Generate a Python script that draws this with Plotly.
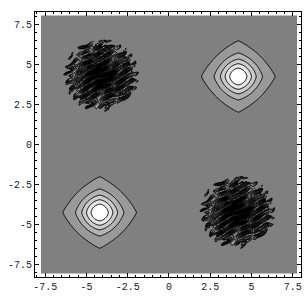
import numpy as np
import plotly.graph_objects as go

# ---- data ----
x_extent = [-7.76, 7.76]
y_extent = [-8.05, 8.05]
light_cx = [4.2, -4.2]          # maxima (light, diamond-shaped)
light_cy = [4.25, -4.25]
dark_cx = [-4.1, 4.15]          # minima (dark, noisy)
dark_cy = [4.3, -4.25]
core_amp, core_w = 0.55, 0.95
shoulder_amp, shoulder_w, shoulder_p = 0.45, 1.75, 1.2
dark_amp, dark_w2, dark_radius = 1.0, 1.4, 2.05
streak_amp, streak_angle_deg = 0.6, 33
n_levels = 10
z_lo, z_hi = -1.0, 1.0
tick_vals = [-7.5, -5, -2.5, 0, 2.5, 5, 7.5]
tick_text = ["-7.5", "-5", "-2.5", "0", "2.5", "5", "7.5"]

# ---- field ----
xs = np.linspace(x_extent[0], x_extent[1], 389)
ys = np.linspace(y_extent[0], y_extent[1], 403)
X, Y = np.meshgrid(xs, ys)
Z = np.zeros_like(X)

for cx, cy in zip(light_cx, light_cy):
    dx, dy = X - cx, Y - cy
    r2 = dx**2 + dy**2
    rho = (np.abs(dx)**shoulder_p + np.abs(dy)**shoulder_p) ** (1 / shoulder_p)
    Z += core_amp * np.exp(-r2 / core_w**2) + shoulder_amp * np.exp(-(rho / shoulder_w) ** 2)

th = np.radians(streak_angle_deg)
for cx, cy in zip(dark_cx, dark_cy):
    dx, dy = X - cx, Y - cy
    r2 = dx**2 + dy**2
    u = -np.sin(th) * dx + np.cos(th) * dy
    v = np.cos(th) * dx + np.sin(th) * dy
    streak = (np.sin(2 * np.pi * u / 0.5 + 1.2 * np.sin(2 * np.pi * v / 2.1))
              * np.sin(2 * np.pi * v / 1.9 + 5 * u)
              + 0.3 * np.sin(2 * np.pi * (u / 0.31 - v / 3.7))) / 1.3
    edge = dark_radius + 0.22 * np.sin(2 * np.pi * u / 0.5 + 2.0 * np.sin(2 * np.pi * v / 1.5))
    inside = np.sqrt(r2) < edge
    Z += np.where(inside, -dark_amp * np.exp(-r2 / dark_w2) + streak_amp * streak, 0.0)

Z = np.round(Z, 3)

step = (z_hi - z_lo) / (n_levels + 1)

fig = go.Figure(go.Contour(
    x=xs, y=ys, z=Z,
    autocontour=False,
    contours=dict(start=z_lo + step, end=z_lo + n_levels * step, size=step,
                  coloring="fill", showlines=True),
    colorscale=[[0, "rgb(0,0,0)"], [1, "rgb(255,255,255)"]],
    line=dict(color="black", width=1),
    showscale=False,
    hoverinfo="skip",
))

axis_common = dict(
    showgrid=False, zeroline=False, showline=True, linecolor="black", linewidth=1,
    mirror="ticks", ticks="inside", ticklen=4, tickwidth=1, tickcolor="black",
    tickmode="array", tickvals=tick_vals, ticktext=tick_text,
    tickfont=dict(family="Liberation Mono", size=10, color="#222"),
    minor=dict(ticks="inside", ticklen=2, dtick=0.5, tickcolor="black", tickwidth=1),
)
fig.update_xaxes(range=[-8.12, 8.0], **axis_common)
fig.update_yaxes(range=[-8.28, 8.28], **axis_common)
fig.update_layout(
    width=304, height=304,
    margin=dict(l=35, r=3, t=12, b=27),
    paper_bgcolor="white", plot_bgcolor="white",
    showlegend=False,
)
fig.write_html("out.html", config={"displayModeBar": False, "staticPlot": True},
               post_script="document.body.style.margin='0';")
